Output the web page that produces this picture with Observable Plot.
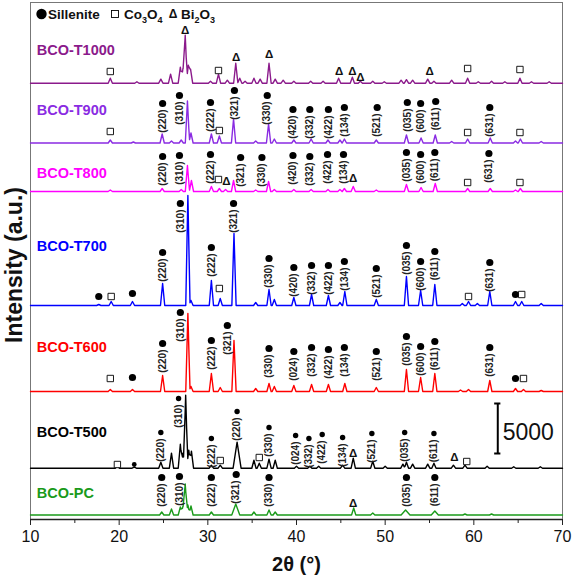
<!DOCTYPE html>
<html>
<head>
<meta charset="utf-8">
<script src="https://cdn.jsdelivr.net/npm/d3@7"></script>
<script src="https://cdn.jsdelivr.net/npm/@observablehq/plot@0.6"></script>
<style>
  body { margin: 0; background: #fff; }
  svg { display: block; }
</style>
</head>
<body>
<div id="chart"></div>
<script>
// ---------- data (2θ in degrees, intensity in counts) ----------
const seriesNames  = ["BCO-T1000", "BCO-T900", "BCO-T800", "BCO-T700", "BCO-T600", "BCO-T500", "BCO-PC"];
const seriesColors = ["#8B1A8B", "#8A2BE2", "#FF00FF", "#0000FF", "#FF0000", "#000000", "#1A9A1A"];
const seriesOffsets = [43630, 37650, 32800, 21400, 12800, 5130, 450];
const seriesLabelY  = [46900, 40900, 34600, 27300, 17200, 8700, 2600];
const seriesLabelX  = 10.7;

// peaks: [2θ, height above baseline, optional half-width]
const peaksT1000 = [[19.0,500],[22.0,150],[24.7,400],[25.8,900],[26.9,1600],[27.2,1500],[27.45,4800],[27.8,1800],[28.05,1400],[30.3,200],[31.2,900],[32.2,300],[33.15,2000],[33.6,500],[34.2,200],[35.2,500],[35.9,400],[36.9,2000],[37.6,400],[38.5,300],[39.7,200],[41.6,200],[43.0,200],[44.75,500],[46.3,600],[47.2,200],[48.6,200],[49.9,150],[51.8,300],[52.4,350],[53.1,300],[54.8,400],[55.5,200],[57.5,300],[59.3,500],[60.5,150],[62.0,200],[63.5,150],[65.2,500],[66.5,150],[68.5,150]];
const peaksT900 = [[19.0,300],[21.6,100],[24.85,900],[25.9,200],[27.0,300],[27.7,4200],[28.1,1000],[30.4,900],[31.3,700],[32.9,2400],[35.4,200],[36.85,1900],[37.5,400],[39.7,300],[41.65,400],[43.55,300],[44.9,300],[45.4,400],[49.0,300],[52.4,800],[54.05,500],[55.65,800],[57.5,150],[59.3,400],[61.85,500],[64.7,200],[65.25,400],[67.6,150]];
const peaksT800 = [[19.0,150],[24.85,300],[27.0,200],[27.7,2600],[28.15,1100],[30.4,500],[31.3,300],[32.0,200],[32.9,1100],[35.4,150],[36.85,1000],[37.5,200],[39.7,200],[41.65,200],[43.55,200],[44.9,200],[45.4,300],[46.4,500],[49.0,150],[52.4,700],[54.05,400],[55.65,800],[59.3,300],[61.85,300],[64.7,150],[65.25,300]];
const peaksT700 = [[17.7,100],[19.1,400],[21.5,400],[24.9,2200],[27.75,11000],[28.1,500],[30.4,2500],[31.4,700],[32.95,7200],[35.4,300],[36.9,1600],[37.5,600],[39.7,800],[41.7,1100],[43.6,1000],[44.9,300],[45.45,1400],[49.0,600],[52.4,2900],[54.0,1500],[55.6,2100],[58.7,200],[59.4,400],[60.4,200],[61.8,1400],[64.7,400],[65.4,400],[67.6,200]];
const peaksT600 = [[19.0,200],[21.5,200],[24.9,1600],[27.75,7800],[28.1,500],[30.4,1800],[31.4,400],[32.95,5100],[35.4,300],[36.9,800],[37.5,500],[39.7,600],[41.7,700],[43.6,700],[45.45,800],[49.0,400],[52.4,2200],[54.0,1400],[55.6,1800],[58.5,150],[59.4,200],[61.8,1100],[64.7,300],[65.6,200],[67.6,100]];
const peaksT500 = [[19.8,200],[21.7,100],[24.7,600],[25.9,1500],[26.9,2400],[27.2,1500],[27.5,7300],[27.85,1800],[28.15,1700],[30.4,300],[31.4,300],[33.3,2600,0.45],[35.2,800],[35.8,500],[36.9,900],[37.6,800],[40.0,200],[41.5,200],[42.5,200],[45.2,300],[46.4,1000],[48.6,700],[50.0,200],[52.0,400],[52.4,600],[53.1,400],[54.8,400],[55.5,500],[57.7,300],[59.0,300],[61.5,200],[64.5,150],[67.5,150]];
const peaksPC = [[24.8,300],[25.9,600],[26.9,800],[27.2,900],[27.45,3100],[27.75,1000],[28.1,900],[30.4,300],[33.15,1100,0.45],[35.2,300],[36.9,500],[37.6,300],[46.45,700],[48.6,200],[52.3,500,0.5],[55.6,400,0.4],[59.0,100],[62.0,100]];

// hkl labels: [2θ, hkl, intensity of the marker dot]
const hklT1000 = [];
const hklT900 = [[24.9,"(220)",41600],[26.8,"(310)",42400],[30.3,"(222)",41700],[33.0,"(321)",42900],[36.7,"(330)",42400],[39.6,"(420)",41000],[41.5,"(332)",41000],[43.6,"(422)",41000],[45.4,"(134)",41200],[49.1,"(521)",41200],[52.5,"(035)",41700],[54.0,"(600)",41600],[55.7,"(611)",41800],[61.8,"(631)",41200]];
const hklT800 = [[24.9,"(220)",36300],[26.8,"(310)",36400],[30.3,"(222)",36500],[33.7,"(321)",36200],[36.1,"(330)",36200],[39.6,"(420)",36400],[41.5,"(332)",36300],[43.5,"(422)",36500],[45.3,"(134)",36500],[52.4,"(035)",36700],[54.0,"(600)",36500],[55.6,"(611)",36700],[61.7,"(631)",36600]];
const hklT700 = [[24.9,"(220)",26700],[26.9,"(310)",31600],[30.4,"(222)",27200],[32.9,"(321)",31600],[36.9,"(330)",26100],[39.7,"(420)",25200],[41.7,"(332)",25400],[43.6,"(422)",25400],[45.4,"(134)",25800],[49.0,"(521)",25100],[52.4,"(035)",27400],[54.0,"(600)",25800],[55.6,"(611)",26800],[61.8,"(631)",25700]];
const hklT600 = [[24.9,"(220)",17600],[26.9,"(310)",20700],[30.4,"(222)",17900],[32.2,"(321)",19400],[36.9,"(330)",17100],[39.7,"(024)",16800],[41.7,"(332)",17200],[43.6,"(422)",17000],[45.4,"(134)",17200],[49.0,"(521)",16800],[52.4,"(035)",18300],[54.0,"(600)",17300],[55.6,"(611)",17800],[61.8,"(631)",17200]];
const hklT500 = [[24.7,"(220)",8700],[26.7,"(310)",12100],[30.4,"(222)",8100],[33.3,"(220)",10800],[36.9,"(330)",9200],[39.9,"(024)",8400],[41.4,"(332)",8100],[42.9,"(422)",8500],[45.2,"(134)",8200],[48.5,"(521)",8600],[52.2,"(035)",8700],[55.5,"(611)",8600]];
const hklPC = [[24.8,"(220)",4200],[26.8,"(310)",4300],[30.4,"(222)",4200],[33.2,"(321)",4500],[36.9,"(330)",4200],[52.4,"(035)",4200],[55.6,"(611)",4200]];

// unlabelled sillenite dots, Co3O4 squares, Bi2O3 triangles: [2θ, intensity]
const extraDots = [[17.7,22300],[21.5,22600],[64.7,22500],[21.5,14200],[64.7,14100]];
const smallDots = [[21.7,5500]];
const co3o4Marks = [[19.0,44800],[31.2,44900],[59.3,45100],[65.2,45000],
  [19.0,38800],[31.3,38900],[59.3,38700],[65.2,38700],
  [31.2,34000],[59.3,33700],[65.2,33700],
  [19.1,22300],[31.3,23100],[59.4,22300],[65.4,22500],
  [19.0,14100],[65.6,14100],
  [19.8,5500],[31.4,5900],[35.8,6200],[59.2,5800]];
const bi2o3Marks = [[27.45,48900],[33.2,46200],[36.9,46500],[44.8,44800],[46.3,44800],[47.2,44200],[55.0,44800],
  [32.1,33800],[46.4,34100],
  [46.4,6600],[57.8,6200],
  [46.4,1600]];

const scaleBar = {x: 62.7, y1: 6600, y2: 11600, label: "5000"};
const xMajorTicks = [10, 20, 30, 40, 50, 60, 70];
const xMinorTicks = [15, 25, 35, 45, 55, 65];
const xTitle = "2θ (°)";
const yTitle = "Intensity (a.u.)";

// ---------- build ----------
const allPeaks = [peaksT1000, peaksT900, peaksT800, peaksT700, peaksT600, peaksT500, peaksPC];
const allHkl = [hklT1000, hklT900, hklT800, hklT700, hklT600, hklT500, hklPC];
const HW = 0.24;
function trace(peaks) {
  const xs = new Set([10, 70]);
  for (const [p, h, w = HW] of peaks) { xs.add(p - w); xs.add(p); xs.add(p + w); }
  return [...xs].sort((a, b) => a - b).map(x => [x,
    d3.max(peaks, ([p, h, w = HW]) => Math.max(0, h * (1 - Math.abs(x - p) / w)))]);
}
const lineData = [];
seriesNames.forEach((name, i) => {
  for (const [x, v] of trace(allPeaks[i])) lineData.push({name, x, y: v + seriesOffsets[i]});
});
const hklData = allHkl.flatMap((arr, i) => arr.map(([x, t, y]) => ({x, t, y, s: i})));
const labelData = seriesNames.map((name, i) => ({name, color: seriesColors[i], y: seriesLabelY[i]}));

const FONT = "'Liberation Sans', Arial, sans-serif";
const plot = Plot.plot({
  width: 572, height: 578,
  marginLeft: 30, marginRight: 10, marginTop: 2, marginBottom: 59,
  style: {fontFamily: FONT, background: "#fff"},
  x: {domain: [10, 70]},
  y: {domain: [0, 51700], axis: null},
  color: {domain: seriesNames, range: seriesColors},
  marks: [
    Plot.frame({stroke: "#777", strokeWidth: 1}),
    Plot.line(lineData, {x: "x", y: "y", z: "name", stroke: "name", strokeWidth: 1.4}),
    Plot.dot(hklData.filter(d => d.s !== 5), {x: "x", y: "y", r: 3.6, fill: "black"}),
    Plot.dot(hklData.filter(d => d.s === 5), {x: "x", y: "y", r: 2.7, fill: "black"}),
    Plot.text(hklData, {x: "x", y: "y", text: "t", rotate: -90, textAnchor: "end", lineAnchor: "middle", dy: 6, fontSize: 10, fontWeight: "bold", fill: "#222"}),
    Plot.dot(extraDots, {x: d => d[0], y: d => d[1], r: 3.6, fill: "black"}),
    Plot.dot(smallDots, {x: d => d[0], y: d => d[1], r: 2.4, fill: "black"}),
    Plot.dot(co3o4Marks, {x: d => d[0], y: d => d[1], symbol: "square", r: 3.6, fill: "white", stroke: "black", strokeWidth: 0.9}),
    Plot.text(bi2o3Marks, {x: d => d[0], y: d => d[1], text: () => "Δ", fontSize: 11.5, fontWeight: "bold", fill: "#111"}),
    Plot.text(labelData, {x: seriesLabelX, y: "y", text: "name", fill: "color", textAnchor: "start", fontSize: 14.5, fontWeight: "bold"}),
    Plot.ruleX([scaleBar], {x: "x", y1: "y1", y2: "y2", stroke: "black", strokeWidth: 2}),
    Plot.ruleY([scaleBar], {y: "y1", x1: d => d.x - 0.35, x2: d => d.x + 0.35, stroke: "black", strokeWidth: 2}),
    Plot.ruleY([scaleBar], {y: "y2", x1: d => d.x - 0.35, x2: d => d.x + 0.35, stroke: "black", strokeWidth: 2}),
    Plot.text([scaleBar], {x: d => d.x + 0.55, y: d => (d.y1 + d.y2) / 2 - 400, text: "label", textAnchor: "start", fontSize: 23, fill: "#111"}),
    Plot.ruleY([0], {stroke: "#222", strokeWidth: 1.5}),
    Plot.axisX({ticks: xMajorTicks, tickSize: 6, tickPadding: 5, fontSize: 16, label: null, stroke: "#222", fill: "#111"}),
    Plot.axisX({ticks: xMinorTicks, tickSize: 4, tickFormat: () => "", label: null, stroke: "#222"}),
    Plot.text([xTitle], {frameAnchor: "bottom", dy: 51, fontSize: 20, fontWeight: "bold", fill: "#111"}),
    Plot.text([yTitle], {frameAnchor: "left", dx: -16, dy: 4, rotate: -90, textAnchor: "middle", lineAnchor: "middle", fontSize: 23, fontWeight: "bold", fill: "#111"})
  ]
});
document.getElementById("chart").appendChild(plot);

// legend (top-left inside the frame)
const svg = d3.select(plot);
const lg = svg.append("g").attr("font-family", FONT).attr("font-weight", "bold").attr("fill", "#111").attr("text-anchor", "start");
lg.append("circle").attr("cx", 41.5).attr("cy", 14).attr("r", 5.2).attr("fill", "black");
lg.append("text").attr("x", 48).attr("y", 14).attr("dy", "0.35em").attr("text-anchor", "start").attr("font-size", 13.5).text("Sillenite");
lg.append("rect").attr("x", 111.5).attr("y", 10.5).attr("width", 7).attr("height", 7).attr("fill", "white").attr("stroke", "black").attr("stroke-width", 0.9);
const t1 = lg.append("text").attr("x", 124).attr("y", 14).attr("dy", "0.35em").attr("text-anchor", "start").attr("font-size", 13.5);
t1.append("tspan").text("Co");
t1.append("tspan").attr("font-size", 9).attr("dy", 4).text("3");
t1.append("tspan").attr("dy", -4).text("O");
t1.append("tspan").attr("font-size", 9).attr("dy", 4).text("4");
lg.append("text").attr("x", 173).attr("y", 14).attr("dy", "0.35em").attr("text-anchor", "middle").attr("font-size", 12).text("Δ");
const t2 = lg.append("text").attr("x", 181).attr("y", 14).attr("dy", "0.35em").attr("text-anchor", "start").attr("font-size", 13.5);
t2.append("tspan").text("Bi");
t2.append("tspan").attr("font-size", 9).attr("dy", 4).text("2");
t2.append("tspan").attr("dy", -4).text("O");
t2.append("tspan").attr("font-size", 9).attr("dy", 4).text("3");
</script>
</body>
</html>
